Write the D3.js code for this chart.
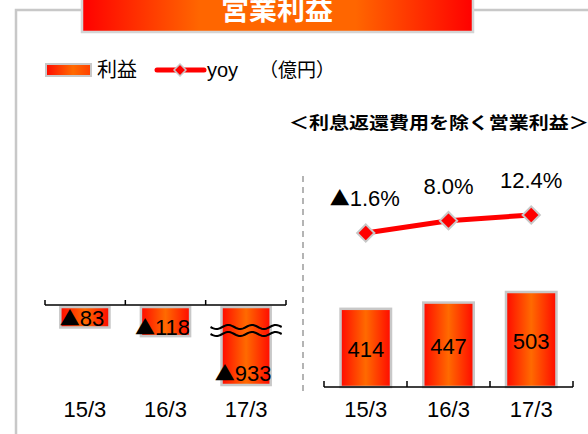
<!DOCTYPE html>
<html>
<head>
<meta charset="utf-8">
<script src="https://cdn.jsdelivr.net/npm/d3@7"></script>
<style>
  body { margin: 0; background: #fff; }
  svg { display: block; font-family: "Liberation Sans", "Noto Sans CJK JP", sans-serif; }
</style>
</head>
<body>
<svg id="chart" width="588" height="434"></svg>
<script>
// data
const categories = ["15/3", "16/3", "17/3"];
const profit = [-83, -118, -933];          // 営業利益
const profitExcl = [414, 447, 503];        // 利息返還費用を除く営業利益
const yoy = [-1.6, 8.0, 12.4];             // yoy %

const svg = d3.select("#chart");
const defs = svg.append("defs");

// bar gradient: red - orange - red
const g1 = defs.append("linearGradient").attr("id", "barGrad");
g1.append("stop").attr("offset", "0%").attr("stop-color", "#ff0a00");
g1.append("stop").attr("offset", "50%").attr("stop-color", "#ff6a00");
g1.append("stop").attr("offset", "100%").attr("stop-color", "#ff0a00");

const g2 = defs.append("linearGradient").attr("id", "titleGrad");
g2.append("stop").attr("offset", "0%").attr("stop-color", "#ff0000");
g2.append("stop").attr("offset", "30%").attr("stop-color", "#ff6600");
g2.append("stop").attr("offset", "70%").attr("stop-color", "#ff6600");
g2.append("stop").attr("offset", "100%").attr("stop-color", "#ff0000");

const g3 = defs.append("linearGradient").attr("id", "legGrad");
g3.append("stop").attr("offset", "0%").attr("stop-color", "#ff0a00");
g3.append("stop").attr("offset", "60%").attr("stop-color", "#ff6a00");
g3.append("stop").attr("offset", "100%").attr("stop-color", "#ff4000");

// writes "▲" (negative) with a CJK font so the triangle is full size
function signedText(sel, v, body) {
  sel.text(null);
  if (v < 0) sel.append("tspan").attr("font-family", "Noto Sans CJK JP").attr("font-size", 20).text("▲");
  sel.append("tspan").text(body);
}

// frame
svg.append("path")
  .attr("d", "M16,434 L16,10 L588,10")
  .attr("fill", "none")
  .attr("stroke", "#c8c8c8")
  .attr("stroke-width", 2.5);

// title box
svg.append("rect")
  .attr("x", 82).attr("y", -3).attr("width", 391).attr("height", 35)
  .attr("fill", "url(#titleGrad)")
  .attr("stroke", "#d4d4d4").attr("stroke-width", 2.5);
svg.append("text")
  .attr("x", 277).attr("y", 20)
  .attr("text-anchor", "middle")
  .attr("fill", "#fff")
  .attr("font-weight", "bold")
  .attr("font-size", 28)
  .text("営業利益");

// legend
svg.append("rect")
  .attr("x", 46).attr("y", 64).attr("width", 45).attr("height", 12)
  .attr("fill", "url(#legGrad)")
  .attr("stroke", "#c8c8c8").attr("stroke-width", 2);
svg.append("text").attr("x", 97).attr("y", 77).attr("font-size", 20).text("利益");
svg.append("line")
  .attr("x1", 157).attr("x2", 204).attr("y1", 70).attr("y2", 70)
  .attr("stroke", "#ff0000").attr("stroke-width", 5).attr("stroke-linecap", "round");
svg.append("path")
  .attr("d", d3.symbol(d3.symbolDiamond2, 90)())
  .attr("transform", "translate(180,70)")
  .attr("fill", "#ff0000").attr("stroke", "#c8c8c8").attr("stroke-width", 1.5);
svg.append("text").attr("x", 207).attr("y", 77).attr("font-size", 20).text("yoy");
svg.append("text").attr("x", 259).attr("y", 77).attr("font-size", 19).text("（億円）");

// subtitle (runs off the right edge, as in the original)
svg.append("text")
  .attr("transform", "translate(289,129) scale(1,0.85)")
  .attr("font-size", 20).attr("font-weight", "bold")
  .attr("font-family", "Noto Sans CJK JP")
  .text("＜利息返還費用を除く営業利益＞");

// ---------- left panel ----------
const axisL = 305;
const xL = d3.scaleBand().domain(categories).range([45, 286]).paddingInner(0.39).paddingOuter(0.19);
// broken scale: 17/3 bar is cut
const hL = d3.scaleLinear().domain([0, 150, 933]).range([0, 37, 78]);

const left = svg.append("g");
left.selectAll("rect.bar")
  .data(profit)
  .join("rect")
  .attr("class", "bar")
  .attr("x", (d, i) => xL(categories[i]))
  .attr("y", axisL + 2)
  .attr("width", xL.bandwidth())
  .attr("height", d => hL(Math.abs(d)))
  .attr("fill", "url(#barGrad)")
  .attr("stroke", "#c8c8c8").attr("stroke-width", 2.5);

// break marks on 17/3
const bx0 = xL(categories[2]) - 11, bx1 = xL(categories[2]) + xL.bandwidth() + 11;
const wave = y0 => {
  const pts = d3.range(0, 1.0001, 0.02).map(t => [bx0 + t * (bx1 - bx0), y0 + 2 * Math.sin(t * Math.PI * 6)]);
  return d3.line()(pts);
};
[327, 334].forEach(y0 => {
  left.append("path").attr("d", wave(y0)).attr("fill", "none")
    .attr("stroke", "#000").attr("stroke-width", 2);
});

left.selectAll("text.val")
  .data(profit)
  .join("text")
  .attr("class", "val")
  .attr("x", (d, i) => xL(categories[i]) + xL.bandwidth() / 2 - 3)
  .attr("y", d => { const h = hL(Math.abs(d)); return axisL + 2 + h - Math.min(15, h * 0.05); })
  .attr("text-anchor", "middle")
  .attr("font-size", 22)
  .each(function (d) { signedText(d3.select(this), d, String(Math.abs(d))); });

// axis with boundary ticks
left.append("line").attr("x1", 45).attr("x2", 286).attr("y1", axisL).attr("y2", axisL)
  .attr("stroke", "#000").attr("stroke-width", 1.5);
left.selectAll("line.tk")
  .data(d3.range(categories.length + 1))
  .join("line")
  .attr("class", "tk")
  .attr("x1", i => 45 + i * (241 / 3))
  .attr("x2", i => 45 + i * (241 / 3))
  .attr("y1", axisL).attr("y2", axisL - 5)
  .attr("stroke", "#000").attr("stroke-width", 1.5);
left.selectAll("text.cat")
  .data(categories)
  .join("text")
  .attr("class", "cat")
  .attr("x", d => xL(d) + xL.bandwidth() / 2)
  .attr("y", 417)
  .attr("text-anchor", "middle")
  .attr("font-size", 22)
  .text(d => d);

// divider
svg.append("line").attr("x1", 303).attr("x2", 303).attr("y1", 176).attr("y2", 394)
  .attr("stroke", "#b4b4b4").attr("stroke-width", 2).attr("stroke-dasharray", "6,5");

// ---------- right panel ----------
const axisR = 387;
const xR = d3.scaleBand().domain(categories).range([324, 573]).paddingInner(0.39).paddingOuter(0.2);
const yR = d3.scaleLinear().domain([0, 503]).range([axisR, 292]);
const yY = d3.scaleLinear().domain([-1.6, 12.4]).range([233, 215]);

const right = svg.append("g");
right.selectAll("rect.bar")
  .data(profitExcl)
  .join("rect")
  .attr("class", "bar")
  .attr("x", (d, i) => xR(categories[i]))
  .attr("y", d => yR(d))
  .attr("width", xR.bandwidth())
  .attr("height", d => axisR - yR(d))
  .attr("fill", "url(#barGrad)")
  .attr("stroke", "#c8c8c8").attr("stroke-width", 2.5);

right.selectAll("text.val")
  .data(profitExcl)
  .join("text")
  .attr("class", "val")
  .attr("x", (d, i) => xR(categories[i]) + xR.bandwidth() / 2)
  .attr("y", d => (yR(d) + axisR) / 2 + 9)
  .attr("text-anchor", "middle")
  .attr("font-size", 22)
  .text(d => d);

right.append("line").attr("x1", 324).attr("x2", 573).attr("y1", axisR).attr("y2", axisR)
  .attr("stroke", "#000").attr("stroke-width", 1.5);
right.selectAll("line.tk")
  .data(d3.range(categories.length + 1))
  .join("line")
  .attr("class", "tk")
  .attr("x1", i => 324 + i * (249 / 3))
  .attr("x2", i => 324 + i * (249 / 3))
  .attr("y1", axisR).attr("y2", axisR - 6)
  .attr("stroke", "#000").attr("stroke-width", 1.5);
right.selectAll("text.cat")
  .data(categories)
  .join("text")
  .attr("class", "cat")
  .attr("x", d => xR(d) + xR.bandwidth() / 2)
  .attr("y", 417)
  .attr("text-anchor", "middle")
  .attr("font-size", 22)
  .text(d => d);

// yoy line
const cx = i => xR(categories[i]) + xR.bandwidth() / 2;
right.append("path")
  .datum(yoy)
  .attr("d", d3.line().x((d, i) => cx(i)).y(d => yY(d)))
  .attr("fill", "none")
  .attr("stroke", "#ff0000").attr("stroke-width", 5);
right.selectAll("path.pt")
  .data(yoy)
  .join("path")
  .attr("class", "pt")
  .attr("d", d3.symbol(d3.symbolDiamond2, 190)())
  .attr("transform", (d, i) => `translate(${cx(i)},${yY(d)})`)
  .attr("fill", "#ff0000").attr("stroke", "#c8c8c8").attr("stroke-width", 2);
right.selectAll("text.pct")
  .data(yoy)
  .join("text")
  .attr("class", "pct")
  .attr("x", (d, i) => cx(i) + (d < 0 ? -1 : 0))
  .attr("y", d => yY(d) - 27)
  .attr("text-anchor", "middle")
  .attr("font-size", 22)
  .each(function (d) { signedText(d3.select(this), d, Math.abs(d).toFixed(1) + "%"); });
</script>
</body>
</html>
